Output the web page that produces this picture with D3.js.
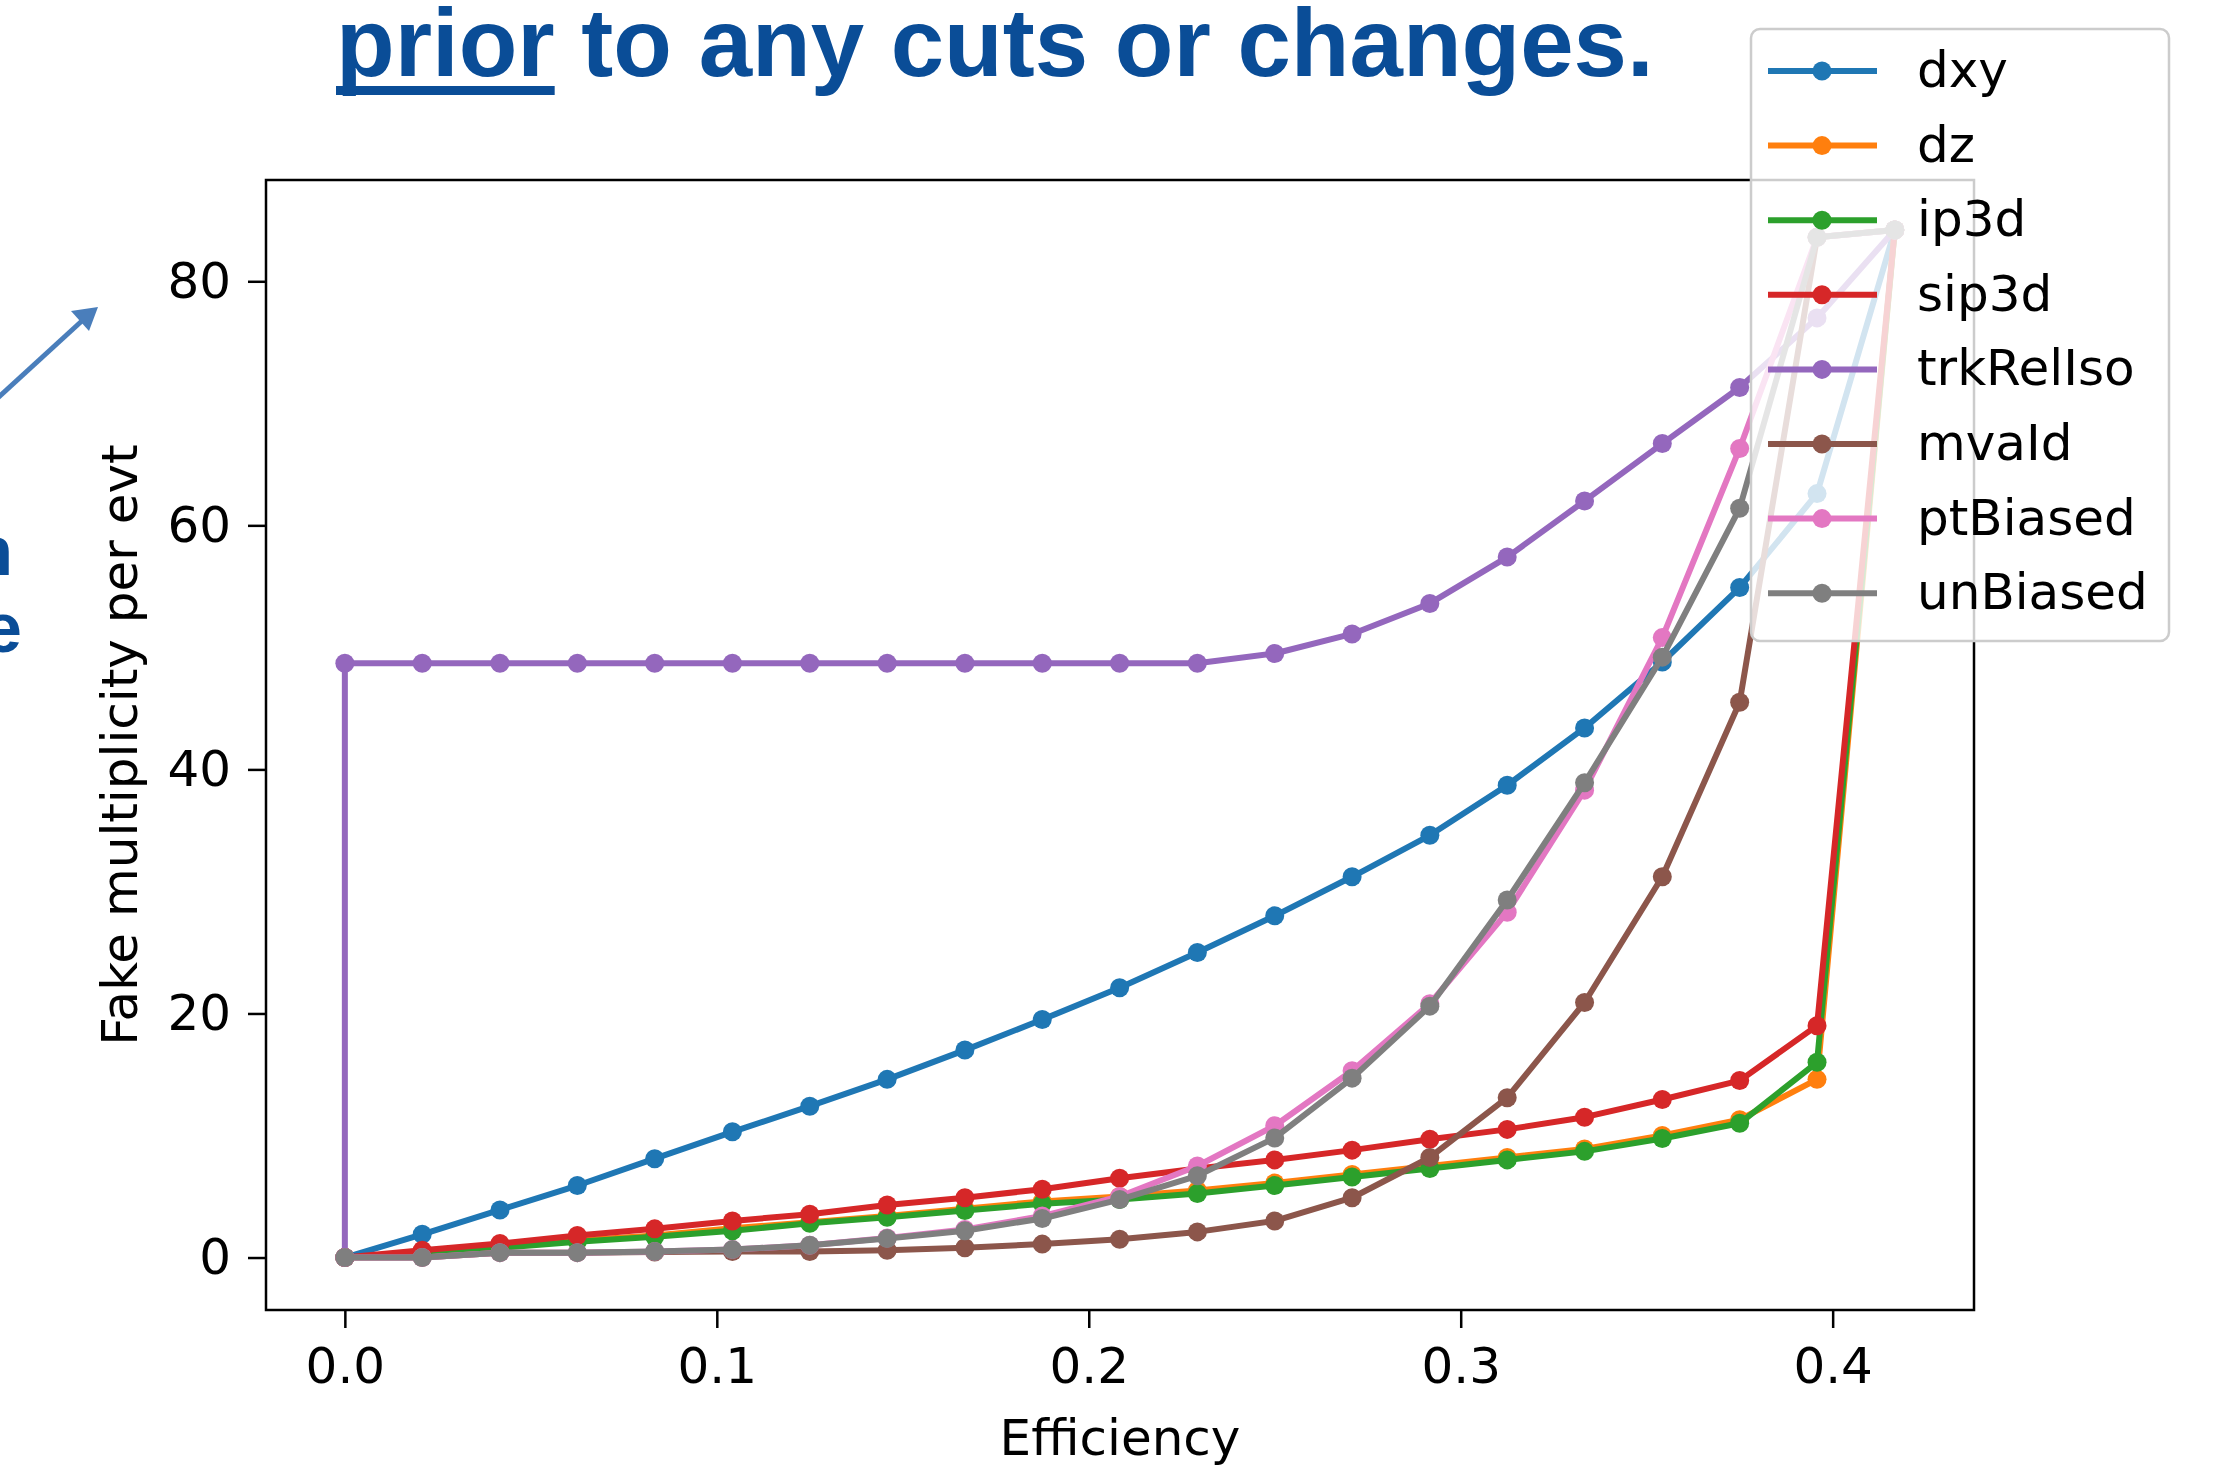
<!DOCTYPE html>
<html>
<head>
<meta charset="utf-8">
<script src="https://cdnjs.cloudflare.com/ajax/libs/d3/7.8.5/d3.min.js"></script>
<style>
  body { margin: 0; background: #ffffff; }
  svg { display: block; }
</style>
</head>
<body>
<svg width="2222" height="1471"></svg>
<script>

// efficiency values shared by the curves (x axis)
var efficiency = [0, 0.0208, 0.0417, 0.0625, 0.0833, 0.1042, 0.125, 0.1458, 0.1667, 0.1875, 0.2083,
                  0.2292, 0.25, 0.2708, 0.2917, 0.3125, 0.3333, 0.3542, 0.375, 0.3958, 0.4167];

// fake multiplicity per evt, one array per variable
var dxy      = [0, 1.9, 3.9, 5.9, 8.1, 10.3, 12.4, 14.6, 17.0, 19.5, 22.1, 25.0, 28.0, 31.2, 34.6, 38.7, 43.4, 48.8, 54.9, 62.6, 84.2];
var dz       = [0, 0.3, 0.9, 1.4, 1.8, 2.4, 2.9, 3.4, 4.0, 4.6, 5.0, 5.5, 6.1, 6.8, 7.5, 8.2, 8.9, 10.0, 11.3, 14.6, 84.2];
var ip3d     = [0, 0.3, 0.8, 1.3, 1.7, 2.2, 2.8, 3.3, 3.85, 4.4, 4.75, 5.25, 5.9, 6.6, 7.3, 8.0, 8.7, 9.75, 11.0, 16.0, 84.2];
var sip3d    = [0, 0.6, 1.15, 1.8, 2.35, 3.0, 3.55, 4.3, 4.9, 5.6, 6.5, 7.3, 8.0, 8.8, 9.7, 10.5, 11.5, 12.95, 14.5, 19.0, 84.2];
var mvaId    = [0, 0, 0.4, 0.4, 0.45, 0.5, 0.5, 0.6, 0.8, 1.1, 1.5, 2.1, 3.0, 4.9, 8.2, 13.1, 20.9, 31.2, 45.5, 83.6, 84.2];
var ptBiased = [0, 0, 0.4, 0.4, 0.5, 0.65, 1.0, 1.6, 2.3, 3.4, 5.0, 7.5, 10.8, 15.3, 20.8, 28.3, 38.3, 50.8, 66.3, 83.6, 84.2];
var unBiased = [0, 0, 0.4, 0.4, 0.5, 0.65, 1.0, 1.55, 2.2, 3.2, 4.75, 6.7, 9.8, 14.7, 20.6, 29.3, 38.9, 49.2, 61.4, 83.6, 84.2];

// trkRelIso has one extra point at the start (it jumps straight up at efficiency 0)
var trkRelIsoEff = [0].concat(efficiency);
var trkRelIso    = [0, 48.7, 48.7, 48.7, 48.7, 48.7, 48.7, 48.7, 48.7, 48.7, 48.7, 48.7, 48.7,
                    49.5, 51.1, 53.6, 57.4, 62.0, 66.7, 71.3, 77.0, 84.2];

var seriesNames  = ["dxy", "dz", "ip3d", "sip3d", "trkRelIso", "mvaId", "ptBiased", "unBiased"];
var seriesColors = ["#1f77b4", "#ff7f0e", "#2ca02c", "#d62728", "#9467bd", "#8c564b", "#e377c2", "#7f7f7f"];
var seriesX = [efficiency, efficiency, efficiency, efficiency, trkRelIsoEff, efficiency, efficiency, efficiency];
var seriesY = [dxy, dz, ip3d, sip3d, trkRelIso, mvaId, ptBiased, unBiased];

// tick labels
var xTicks = [0, 0.1, 0.2, 0.3, 0.4];
var yTicks = [0, 20, 40, 60, 80];

// here the table for drawing is built from the arrays above
var series = seriesNames.map(function(name, i) {
  return {
    name: name,
    color: seriesColors[i],
    points: seriesY[i].map(function(v, j) { return [seriesX[i][j], v]; })
  };
});

var svg = d3.select("svg");
var plot = {left: 266, right: 1974, top: 180, bottom: 1310};
var font = "'DejaVu Sans', sans-serif";
var blue = "#0a4d97";
var lineWidth = 6;
var dotRadius = 9.5;

// scales (matplotlib style margins around the data)
var x = d3.scaleLinear().domain([-0.0212, 0.438]).range([plot.left, plot.right]);
var y = d3.scaleLinear().domain([-4.3, 88.3]).range([plot.bottom, plot.top]);

// slide title above the plot, "prior" is underlined
var title = svg.append("text")
    .attr("x", 336)
    .attr("y", 76)
    .attr("font-family", "'Liberation Sans', Arial, sans-serif")
    .attr("font-weight", "bold")
    .attr("font-size", 96)
    .attr("fill", blue);
var prior = title.append("tspan").text("prior");
title.append("tspan").text(" to any cuts or changes.");
svg.append("rect")
    .attr("x", 336)
    .attr("y", 86)
    .attr("width", prior.node().getComputedTextLength())
    .attr("height", 9)
    .attr("fill", blue);

// pieces of the slide text box cut off on the left edge
svg.append("g")
    .attr("font-family", "'Liberation Sans', Arial, sans-serif")
    .attr("font-weight", "bold")
    .attr("font-size", 71)
    .attr("fill", blue)
    .attr("text-anchor", "end")
    .selectAll("text")
  .data([["n", 13, 575], ["e", 22, 652]])
  .enter().append("text")
    .attr("x", function(d) { return d[1]; })
    .attr("y", function(d) { return d[2]; })
    .text(function(d) { return d[0]; });

// the arrow of the slide pointing at the plot
svg.append("line")
    .attr("x1", -10).attr("y1", 405)
    .attr("x2", 84).attr("y2", 319)
    .attr("stroke", "#4a7ebb")
    .attr("stroke-width", 5);
svg.append("polygon")
    .attr("points", "98,307 71,311 89,331")
    .attr("fill", "#4a7ebb");

// axes: ticks point outward like matplotlib
var yAxis = svg.append("g")
    .attr("transform", "translate(" + plot.left + ",0)")
    .call(d3.axisLeft(y).tickValues(yTicks).tickSize(18).tickPadding(17).tickFormat(d3.format("d")));
var xAxis = svg.append("g")
    .attr("transform", "translate(0," + plot.bottom + ")")
    .call(d3.axisBottom(x).tickValues(xTicks).tickSize(18).tickPadding(19).tickFormat(d3.format(".1f")));

[xAxis, yAxis].forEach(function(a) {
  a.select(".domain").remove();
  a.selectAll(".tick line").attr("stroke", "#000").attr("stroke-width", 2.5);
  a.selectAll(".tick text")
      .attr("font-family", font)
      .attr("font-size", 50)
      .attr("fill", "#000");
});

// axis titles
svg.append("text")
    .attr("x", (plot.left + plot.right) / 2)
    .attr("y", 1455)
    .attr("text-anchor", "middle")
    .attr("font-family", font)
    .attr("font-size", 50)
    .text("Efficiency");
svg.append("text")
    .attr("transform", "translate(137," + (plot.top + plot.bottom) / 2 + ") rotate(-90)")
    .attr("text-anchor", "middle")
    .attr("font-family", font)
    .attr("font-size", 50)
    .text("Fake multiplicity per evt");

// here the curves are drawn, line and dots for every series
var line = d3.line()
    .x(function(d) { return x(d[0]); })
    .y(function(d) { return y(d[1]); });

var curve = svg.append("g").selectAll("g")
  .data(series)
  .enter().append("g");

curve.append("path")
    .attr("d", function(d) { return line(d.points); })
    .attr("fill", "none")
    .attr("stroke", function(d) { return d.color; })
    .attr("stroke-width", lineWidth)
    .attr("stroke-linejoin", "round");

curve.selectAll("circle")
  .data(function(d) { return d.points.map(function(p) { return {p: p, color: d.color}; }); })
  .enter().append("circle")
    .attr("cx", function(d) { return x(d.p[0]); })
    .attr("cy", function(d) { return y(d.p[1]); })
    .attr("r", dotRadius)
    .attr("fill", function(d) { return d.color; });

// plot frame
svg.append("rect")
    .attr("x", plot.left)
    .attr("y", plot.top)
    .attr("width", plot.right - plot.left)
    .attr("height", plot.bottom - plot.top)
    .attr("fill", "none")
    .attr("stroke", "#000")
    .attr("stroke-width", 2.5);

// legend on top, half transparent white box
var legend = svg.append("g");
legend.append("rect")
    .attr("x", 1751)
    .attr("y", 29)
    .attr("width", 418)
    .attr("height", 612)
    .attr("rx", 9)
    .attr("fill", "#ffffff")
    .attr("fill-opacity", 0.8)
    .attr("stroke", "#cccccc")
    .attr("stroke-width", 2.5);

var entry = legend.selectAll(".entry")
  .data(series)
  .enter().append("g")
    .attr("class", "entry")
    .attr("transform", function(d, i) { return "translate(0," + (71 + i * 74.6) + ")"; });

entry.append("line")
    .attr("x1", 1768).attr("x2", 1877)
    .attr("stroke", function(d) { return d.color; })
    .attr("stroke-width", lineWidth);
entry.append("circle")
    .attr("cx", 1822)
    .attr("r", dotRadius)
    .attr("fill", function(d) { return d.color; });
entry.append("text")
    .attr("x", 1917)
    .attr("y", 16)
    .attr("font-family", font)
    .attr("font-size", 50)
    .attr("fill", "#000")
    .text(function(d) { return d.name; });

</script>
</body>
</html>
